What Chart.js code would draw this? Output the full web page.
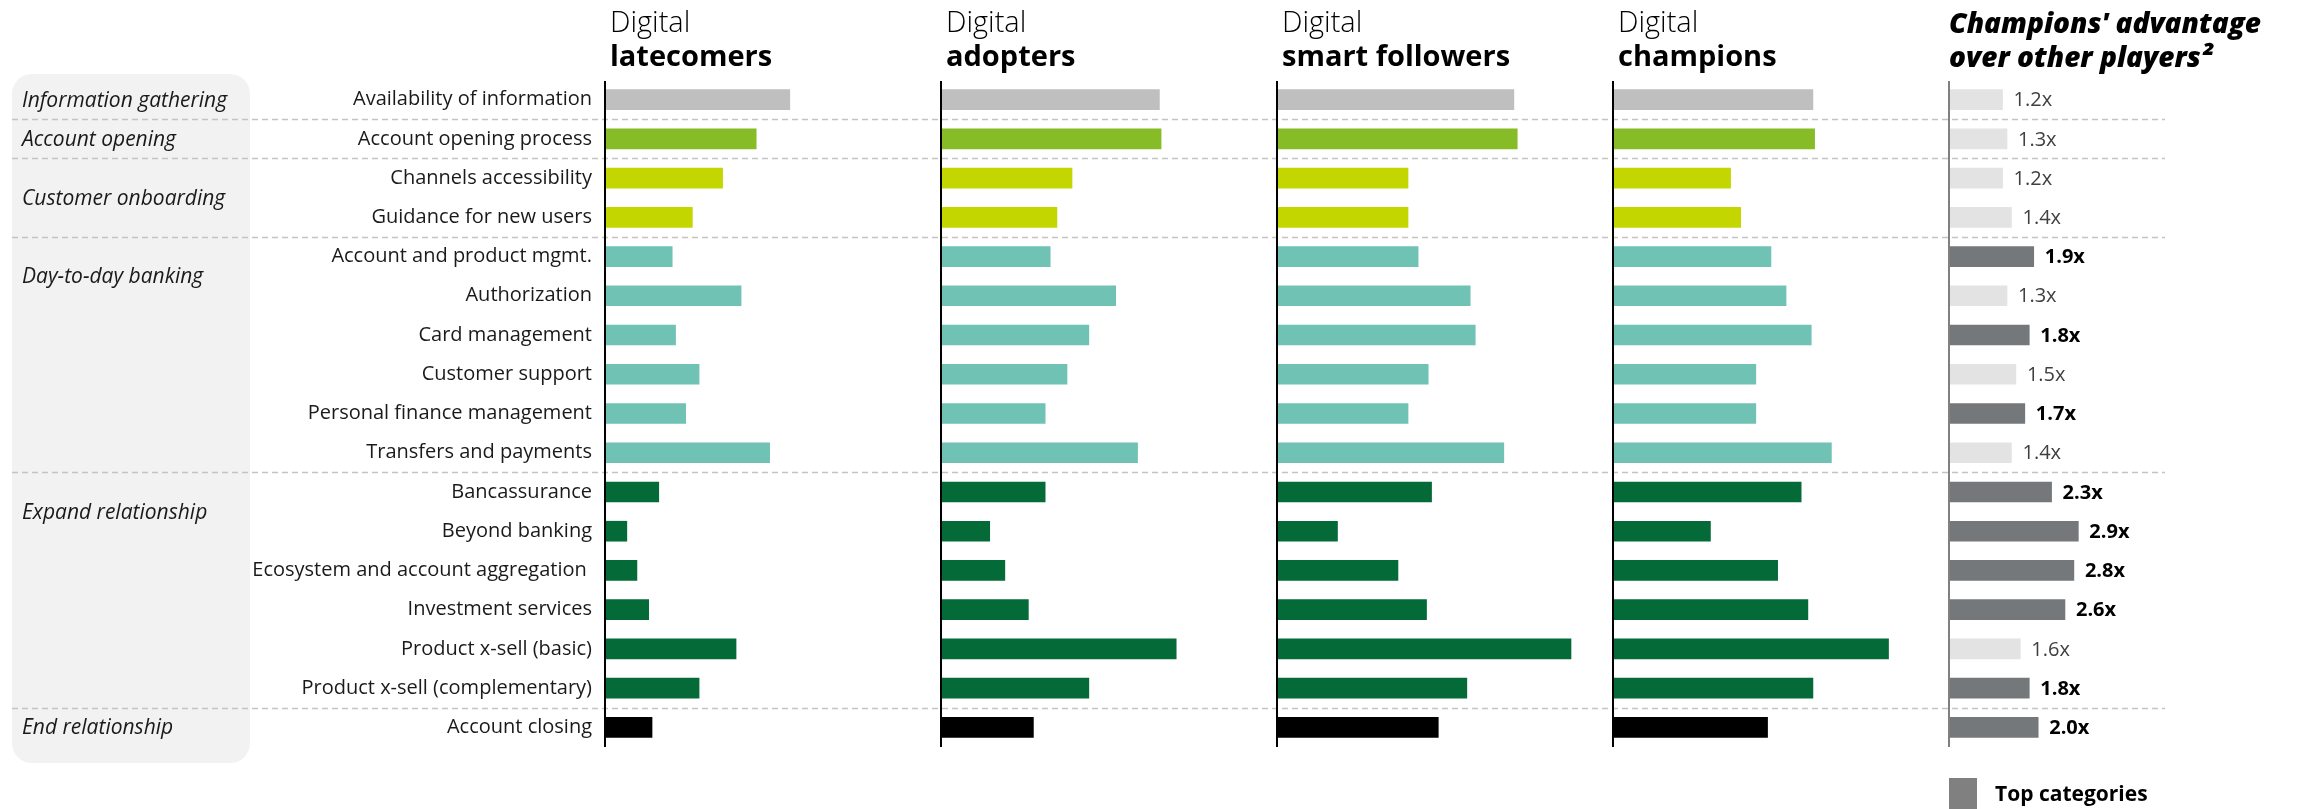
<!DOCTYPE html>
<html>
<head>
<meta charset="utf-8">
<script src="https://cdn.jsdelivr.net/npm/chart.js@4.4.0/dist/chart.umd.min.js"></script>
<style>
  html, body { margin: 0; padding: 0; background: #fff; }
  #wrap { position: relative; width: 2303px; height: 809px; }
</style>
</head>
<body>
<div id="wrap"><canvas id="chart" width="2303" height="809"></canvas></div>
<script>
// rows of the customer journey
const rows = [
  'Availability of information', 'Account opening process', 'Channels accessibility',
  'Guidance for new users', 'Account and product mgmt.', 'Authorization', 'Card management',
  'Customer support', 'Personal finance management', 'Transfers and payments', 'Bancassurance',
  'Beyond banking', 'Ecosystem and account aggregation ', 'Investment services',
  'Product x-sell (basic)', 'Product x-sell (complementary)', 'Account closing'
];

const groups = ['Information gathering', 'Account opening', 'Customer onboarding',
  'Day-to-day banking', 'Expand relationship', 'End relationship'];
const groupStart = [0, 1, 2, 4, 10, 16];
const groupColors = ['#bfbfbf', '#86bc25', '#c4d600', '#6fc2b4', '#046a38', '#000000'];

const panelTitles = [
  ['Digital', 'latecomers'],
  ['Digital', 'adopters'],
  ['Digital', 'smart followers'],
  ['Digital', 'champions']
];
const advantageTitle = ["Champions' advantage", 'over other players\u00b2'];

const latecomers = [55, 45, 35, 26, 20, 40.5, 21, 28, 24, 49, 16, 6.5, 9.5, 13, 39, 28, 14];
const adopters = [65, 65.5, 39, 34.5, 32.5, 52, 44, 37.5, 31, 58.5, 31, 14.5, 19, 26, 70, 44, 27.5];
const smartFollowers = [70.5, 71.5, 39, 39, 42, 57.5, 59, 45, 39, 67.5, 46, 18, 36, 44.5, 87.5, 56.5, 48];
const champions = [59.5, 60, 35, 38, 47, 51.5, 59, 42.5, 42.5, 65, 56, 29, 49, 58, 82, 59.5, 46];

const advantage = [1.2, 1.3, 1.2, 1.4, 1.9, 1.3, 1.8, 1.5, 1.7, 1.4, 2.3, 2.9, 2.8, 2.6, 1.6, 1.8, 2.0];
const topCategory = [false, false, false, false, true, false, true, false, true, false,
  true, true, true, true, false, true, true];

const FONT = "'Open Sans', sans-serif";

// colour of each row from its group
const rowColors = rows.map((r, i) => {
  let g = 0;
  groupStart.forEach((s, k) => { if (i >= s) g = k; });
  return groupColors[g];
});
const advColors = topCategory.map(t => t ? '#75787b' : '#e3e3e3');

function panelScale(max, weight) {
  return {
    type: 'linear', position: 'bottom', stack: 'panels', stackWeight: weight,
    min: 0, max: max, display: false
  };
}

const decor = {
  id: 'decor',
  beforeDraw(chart) {
    const ctx = chart.ctx;
    const area = chart.chartArea;
    ctx.save();
    ctx.fillStyle = '#f2f2f2';
    ctx.beginPath();
    ctx.roundRect(12, area.top - 6, 238, area.bottom - area.top + 22, 20);
    ctx.fill();
    ctx.restore();
  },
  beforeDatasetsDraw(chart) {
    const ctx = chart.ctx;
    const y = chart.scales.y;
    ctx.save();
    ctx.strokeStyle = '#c4c4c4';
    ctx.lineWidth = 1.5;
    ctx.setLineDash([6, 4]);
    groupStart.slice(1).forEach(s => {
      const py = Math.round((y.getPixelForValue(s - 1) + y.getPixelForValue(s)) / 2) + 0.5;
      ctx.beginPath();
      ctx.moveTo(12, py);
      ctx.lineTo(2165, py);
      ctx.stroke();
    });
    ctx.restore();
  },
  afterDatasetsDraw(chart) {
    const ctx = chart.ctx;
    const area = chart.chartArea;
    const y = chart.scales.y;
    ctx.save();

    // vertical base lines
    ['x0', 'x1', 'x2', 'x3', 'x4'].forEach((id, i) => {
      const px = chart.scales[id].getPixelForValue(0);
      ctx.strokeStyle = i < 4 ? '#000' : '#808080';
      ctx.lineWidth = 2;
      ctx.beginPath();
      ctx.moveTo(px, area.top + 1);
      ctx.lineTo(px, area.bottom);
      ctx.stroke();
    });

    // panel headers
    ctx.fillStyle = '#000';
    ctx.textAlign = 'left';
    ctx.textBaseline = 'alphabetic';
    panelTitles.forEach((t, i) => {
      const px = chart.scales['x' + i].getPixelForValue(0) + 5;
      ctx.font = '300 29px ' + FONT;
      ctx.fillText(t[0], px, 32);
      ctx.font = 'bold 29px ' + FONT;
      ctx.fillText(t[1], px, 66);
    });
    const ax = chart.scales.x4.getPixelForValue(0);
    ctx.font = 'italic 800 28px ' + FONT;
    ctx.fillText(advantageTitle[0], ax, 33);
    ctx.fillText(advantageTitle[1], ax, 67);

    // group labels
    ctx.font = 'italic 21px ' + FONT;
    ctx.fillStyle = '#1a1a1a';
    ctx.textBaseline = 'middle';
    groups.forEach((g, k) => {
      const s = groupStart[k];
      const n = (groupStart[k + 1] || rows.length) - s;
      const py = n > 1 ? (y.getPixelForValue(s) + y.getPixelForValue(s + 1)) / 2 : y.getPixelForValue(s);
      ctx.fillText(g, 22, py + 1);
    });

    // advantage values
    const meta = chart.getDatasetMeta(4);
    meta.data.forEach((bar, i) => {
      ctx.font = (topCategory[i] ? 'bold ' : 'normal ') + '20px ' + FONT;
      ctx.fillStyle = topCategory[i] ? '#000' : '#404040';
      ctx.fillText(advantage[i].toFixed(1) + 'x', bar.x + 11, bar.y + 1);
    });

    // legend
    ctx.fillStyle = '#808080';
    ctx.fillRect(ax, 778, 28, 31);
    ctx.fillStyle = '#000';
    ctx.font = 'bold 21px ' + FONT;
    ctx.fillText('Top categories', 1995, 795);
    ctx.restore();
  }
};

const common = { grouped: false, barThickness: 20, borderWidth: 0 };

new Chart(document.getElementById('chart'), {
  type: 'bar',
  data: {
    labels: rows,
    datasets: [
      { ...common, label: 'latecomers', data: latecomers, xAxisID: 'x0', backgroundColor: rowColors },
      { ...common, label: 'adopters', data: adopters, xAxisID: 'x1', backgroundColor: rowColors },
      { ...common, label: 'smart followers', data: smartFollowers, xAxisID: 'x2', backgroundColor: rowColors },
      { ...common, label: 'champions', data: champions, xAxisID: 'x3', backgroundColor: rowColors },
      { ...common, label: 'advantage', data: advantage, xAxisID: 'x4', backgroundColor: advColors }
    ]
  },
  options: {
    indexAxis: 'y',
    responsive: false,
    animation: false,
    layout: { padding: { top: 80, bottom: 62, left: 0, right: 131 } },
    plugins: { legend: { display: false }, tooltip: { enabled: false } },
    scales: {
      y: {
        type: 'category',
        position: 'left',
        grid: { display: false, drawTicks: false },
        border: { display: false },
        ticks: { autoSkip: false, padding: 13, color: '#1a1a1a', font: { family: FONT, size: 20 } },
        afterFit(scale) { scale.width = 605; }
      },
      x0: panelScale(100, 336),
      x1: panelScale(100, 336),
      x2: panelScale(100, 336),
      x3: panelScale(100, 336),
      x4: panelScale(5, 223)
    }
  },
  plugins: [decor]
});
</script>
</body>
</html>
